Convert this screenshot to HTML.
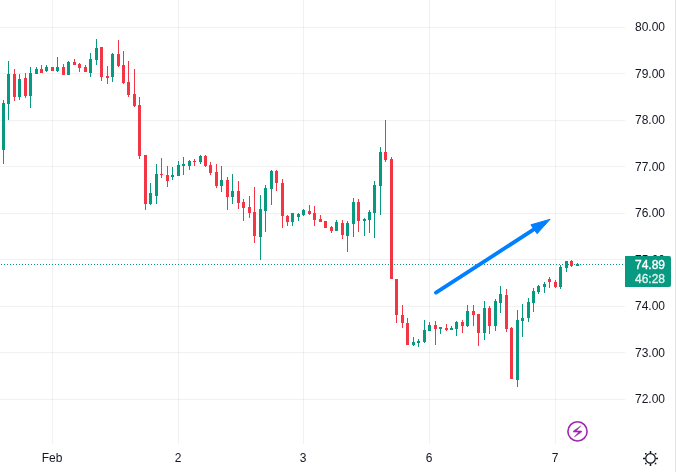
<!DOCTYPE html>
<html><head><meta charset="utf-8"><style>
html,body{margin:0;padding:0;background:#fff;}
body{width:676px;height:472px;overflow:hidden;}
svg{display:block;will-change:transform;}
.ax{font-family:"Liberation Sans",sans-serif;font-size:12px;fill:#131722;}
.lb{font-family:"Liberation Sans",sans-serif;font-size:12px;fill:#fff;}
</style></head><body>
<svg width="676" height="472" viewBox="0 0 676 472">
<g shape-rendering="crispEdges"><rect x="0" y="27" width="625" height="1" fill="rgba(30,40,35,0.065)"/><rect x="0" y="73" width="625" height="1" fill="rgba(30,40,35,0.065)"/><rect x="0" y="120" width="625" height="1" fill="rgba(30,40,35,0.065)"/><rect x="0" y="166" width="625" height="1" fill="rgba(30,40,35,0.065)"/><rect x="0" y="213" width="625" height="1" fill="rgba(30,40,35,0.065)"/><rect x="0" y="259" width="625" height="1" fill="rgba(30,40,35,0.065)"/><rect x="0" y="306" width="625" height="1" fill="rgba(30,40,35,0.065)"/><rect x="0" y="352" width="625" height="1" fill="rgba(30,40,35,0.065)"/><rect x="0" y="399" width="625" height="1" fill="rgba(30,40,35,0.065)"/><rect x="52" y="0" width="1" height="444" fill="rgba(30,40,35,0.065)"/><rect x="178" y="0" width="1" height="444" fill="rgba(30,40,35,0.065)"/><rect x="303" y="0" width="1" height="444" fill="rgba(30,40,35,0.065)"/><rect x="429" y="0" width="1" height="444" fill="rgba(30,40,35,0.065)"/><rect x="555" y="0" width="1" height="444" fill="rgba(30,40,35,0.065)"/><rect x="3" y="100" width="1" height="64" fill="#089981"/><rect x="2" y="103" width="3" height="47" fill="#089981"/><rect x="8" y="61" width="1" height="59" fill="#089981"/><rect x="7" y="74" width="3" height="30" fill="#089981"/><rect x="14" y="69" width="1" height="32" fill="#F23645"/><rect x="13" y="74" width="3" height="23" fill="#F23645"/><rect x="19" y="74" width="1" height="26" fill="#089981"/><rect x="18" y="79" width="3" height="18" fill="#089981"/><rect x="25" y="73" width="1" height="25" fill="#F23645"/><rect x="24" y="78" width="3" height="18" fill="#F23645"/><rect x="30" y="67" width="1" height="41" fill="#089981"/><rect x="29" y="73" width="3" height="23" fill="#089981"/><rect x="36" y="67" width="1" height="7" fill="#089981"/><rect x="35" y="69" width="3" height="5" fill="#089981"/><rect x="41" y="65" width="1" height="8" fill="#F23645"/><rect x="40" y="69" width="3" height="4" fill="#F23645"/><rect x="46" y="65" width="1" height="7" fill="#089981"/><rect x="45" y="67" width="3" height="4" fill="#089981"/><rect x="52" y="67" width="1" height="4" fill="#F23645"/><rect x="51" y="67" width="3" height="4" fill="#F23645"/><rect x="57" y="57" width="1" height="15" fill="#089981"/><rect x="56" y="67" width="3" height="4" fill="#089981"/><rect x="63" y="64" width="1" height="11" fill="#F23645"/><rect x="62" y="67" width="3" height="8" fill="#F23645"/><rect x="68" y="61" width="1" height="14" fill="#089981"/><rect x="67" y="62" width="3" height="13" fill="#089981"/><rect x="74" y="59" width="1" height="6" fill="#F23645"/><rect x="73" y="62" width="3" height="3" fill="#F23645"/><rect x="79" y="63" width="1" height="9" fill="#F23645"/><rect x="78" y="64" width="3" height="4" fill="#F23645"/><rect x="85" y="65" width="1" height="7" fill="#F23645"/><rect x="84" y="67" width="3" height="5" fill="#F23645"/><rect x="90" y="53" width="1" height="24" fill="#089981"/><rect x="89" y="59" width="3" height="14" fill="#089981"/><rect x="96" y="39" width="1" height="26" fill="#089981"/><rect x="95" y="48" width="3" height="12" fill="#089981"/><rect x="101" y="47" width="1" height="34" fill="#F23645"/><rect x="100" y="47" width="3" height="30" fill="#F23645"/><rect x="107" y="66" width="1" height="18" fill="#F23645"/><rect x="106" y="76" width="3" height="2" fill="#F23645"/><rect x="112" y="53" width="1" height="29" fill="#089981"/><rect x="111" y="54" width="3" height="23" fill="#089981"/><rect x="118" y="40" width="1" height="27" fill="#F23645"/><rect x="117" y="54" width="3" height="12" fill="#F23645"/><rect x="123" y="51" width="1" height="33" fill="#F23645"/><rect x="122" y="65" width="3" height="18" fill="#F23645"/><rect x="128" y="61" width="1" height="36" fill="#F23645"/><rect x="127" y="82" width="3" height="13" fill="#F23645"/><rect x="134" y="69" width="1" height="38" fill="#F23645"/><rect x="133" y="94" width="3" height="12" fill="#F23645"/><rect x="139" y="97" width="1" height="62" fill="#F23645"/><rect x="138" y="105" width="3" height="51" fill="#F23645"/><rect x="145" y="155" width="1" height="55" fill="#F23645"/><rect x="144" y="155" width="3" height="49" fill="#F23645"/><rect x="150" y="183" width="1" height="22" fill="#089981"/><rect x="149" y="193" width="3" height="11" fill="#089981"/><rect x="156" y="164" width="1" height="40" fill="#089981"/><rect x="155" y="174" width="3" height="22" fill="#089981"/><rect x="161" y="158" width="1" height="20" fill="#F23645"/><rect x="160" y="174" width="3" height="1" fill="#F23645"/><rect x="167" y="166" width="1" height="21" fill="#F23645"/><rect x="166" y="175" width="3" height="6" fill="#F23645"/><rect x="172" y="167" width="1" height="13" fill="#089981"/><rect x="171" y="175" width="3" height="2" fill="#089981"/><rect x="178" y="161" width="1" height="15" fill="#089981"/><rect x="177" y="165" width="3" height="11" fill="#089981"/><rect x="183" y="157" width="1" height="18" fill="#089981"/><rect x="182" y="164" width="3" height="2" fill="#089981"/><rect x="189" y="160" width="1" height="10" fill="#089981"/><rect x="188" y="161" width="3" height="5" fill="#089981"/><rect x="194" y="159" width="1" height="7" fill="#F23645"/><rect x="193" y="161" width="3" height="1" fill="#F23645"/><rect x="200" y="155" width="1" height="9" fill="#089981"/><rect x="199" y="156" width="3" height="6" fill="#089981"/><rect x="205" y="155" width="1" height="12" fill="#F23645"/><rect x="204" y="156" width="3" height="10" fill="#F23645"/><rect x="210" y="162" width="1" height="13" fill="#F23645"/><rect x="209" y="165" width="3" height="8" fill="#F23645"/><rect x="216" y="164" width="1" height="24" fill="#F23645"/><rect x="215" y="172" width="3" height="14" fill="#F23645"/><rect x="221" y="166" width="1" height="26" fill="#089981"/><rect x="220" y="180" width="3" height="6" fill="#089981"/><rect x="227" y="177" width="1" height="33" fill="#F23645"/><rect x="226" y="180" width="3" height="17" fill="#F23645"/><rect x="232" y="174" width="1" height="30" fill="#089981"/><rect x="231" y="191" width="3" height="6" fill="#089981"/><rect x="238" y="181" width="1" height="28" fill="#F23645"/><rect x="237" y="191" width="3" height="12" fill="#F23645"/><rect x="243" y="199" width="1" height="22" fill="#F23645"/><rect x="242" y="202" width="3" height="6" fill="#F23645"/><rect x="249" y="196" width="1" height="22" fill="#F23645"/><rect x="248" y="207" width="3" height="6" fill="#F23645"/><rect x="254" y="187" width="1" height="56" fill="#F23645"/><rect x="253" y="212" width="3" height="24" fill="#F23645"/><rect x="260" y="195" width="1" height="65" fill="#089981"/><rect x="259" y="209" width="3" height="28" fill="#089981"/><rect x="265" y="185" width="1" height="47" fill="#089981"/><rect x="264" y="188" width="3" height="23" fill="#089981"/><rect x="271" y="170" width="1" height="35" fill="#089981"/><rect x="270" y="171" width="3" height="18" fill="#089981"/><rect x="276" y="170" width="1" height="21" fill="#F23645"/><rect x="275" y="171" width="3" height="12" fill="#F23645"/><rect x="282" y="179" width="1" height="49" fill="#F23645"/><rect x="281" y="183" width="3" height="33" fill="#F23645"/><rect x="287" y="215" width="1" height="11" fill="#F23645"/><rect x="286" y="216" width="3" height="6" fill="#F23645"/><rect x="292" y="213" width="1" height="13" fill="#089981"/><rect x="291" y="213" width="3" height="9" fill="#089981"/><rect x="298" y="213" width="1" height="8" fill="#089981"/><rect x="297" y="214" width="3" height="3" fill="#089981"/><rect x="303" y="209" width="1" height="7" fill="#089981"/><rect x="302" y="210" width="3" height="5" fill="#089981"/><rect x="309" y="205" width="1" height="10" fill="#F23645"/><rect x="308" y="211" width="3" height="3" fill="#F23645"/><rect x="314" y="206" width="1" height="20" fill="#F23645"/><rect x="313" y="213" width="3" height="7" fill="#F23645"/><rect x="320" y="215" width="1" height="7" fill="#F23645"/><rect x="319" y="219" width="3" height="3" fill="#F23645"/><rect x="325" y="221" width="1" height="7" fill="#F23645"/><rect x="324" y="221" width="3" height="7" fill="#F23645"/><rect x="331" y="226" width="1" height="7" fill="#F23645"/><rect x="330" y="227" width="3" height="4" fill="#F23645"/><rect x="336" y="220" width="1" height="11" fill="#089981"/><rect x="335" y="222" width="3" height="9" fill="#089981"/><rect x="342" y="220" width="1" height="19" fill="#F23645"/><rect x="341" y="223" width="3" height="12" fill="#F23645"/><rect x="347" y="221" width="1" height="31" fill="#089981"/><rect x="346" y="223" width="3" height="13" fill="#089981"/><rect x="353" y="198" width="1" height="39" fill="#089981"/><rect x="352" y="202" width="3" height="22" fill="#089981"/><rect x="358" y="199" width="1" height="33" fill="#F23645"/><rect x="357" y="202" width="3" height="19" fill="#F23645"/><rect x="364" y="218" width="1" height="18" fill="#089981"/><rect x="363" y="219" width="3" height="2" fill="#089981"/><rect x="369" y="210" width="1" height="23" fill="#089981"/><rect x="368" y="212" width="3" height="8" fill="#089981"/><rect x="374" y="181" width="1" height="57" fill="#089981"/><rect x="373" y="185" width="3" height="28" fill="#089981"/><rect x="380" y="147" width="1" height="68" fill="#089981"/><rect x="379" y="152" width="3" height="34" fill="#089981"/><rect x="385" y="120" width="1" height="42" fill="#F23645"/><rect x="384" y="152" width="3" height="8" fill="#F23645"/><rect x="391" y="157" width="1" height="122" fill="#F23645"/><rect x="390" y="159" width="3" height="120" fill="#F23645"/><rect x="396" y="279" width="1" height="44" fill="#F23645"/><rect x="395" y="279" width="3" height="36" fill="#F23645"/><rect x="402" y="305" width="1" height="23" fill="#F23645"/><rect x="401" y="315" width="3" height="8" fill="#F23645"/><rect x="407" y="318" width="1" height="27" fill="#F23645"/><rect x="406" y="323" width="3" height="22" fill="#F23645"/><rect x="413" y="337" width="1" height="9" fill="#089981"/><rect x="412" y="342" width="3" height="3" fill="#089981"/><rect x="418" y="339" width="1" height="8" fill="#089981"/><rect x="417" y="341" width="3" height="2" fill="#089981"/><rect x="424" y="320" width="1" height="23" fill="#089981"/><rect x="423" y="330" width="3" height="12" fill="#089981"/><rect x="429" y="322" width="1" height="9" fill="#089981"/><rect x="428" y="325" width="3" height="6" fill="#089981"/><rect x="435" y="321" width="1" height="24" fill="#F23645"/><rect x="434" y="325" width="3" height="4" fill="#F23645"/><rect x="440" y="327" width="1" height="7" fill="#089981"/><rect x="439" y="327" width="3" height="2" fill="#089981"/><rect x="446" y="324" width="1" height="7" fill="#F23645"/><rect x="445" y="328" width="3" height="2" fill="#F23645"/><rect x="451" y="326" width="1" height="4" fill="#089981"/><rect x="450" y="328" width="3" height="2" fill="#089981"/><rect x="456" y="321" width="1" height="15" fill="#089981"/><rect x="455" y="322" width="3" height="7" fill="#089981"/><rect x="462" y="320" width="1" height="13" fill="#F23645"/><rect x="461" y="322" width="3" height="4" fill="#F23645"/><rect x="467" y="305" width="1" height="22" fill="#089981"/><rect x="466" y="311" width="3" height="15" fill="#089981"/><rect x="473" y="305" width="1" height="21" fill="#F23645"/><rect x="472" y="311" width="3" height="4" fill="#F23645"/><rect x="478" y="314" width="1" height="32" fill="#F23645"/><rect x="477" y="314" width="3" height="19" fill="#F23645"/><rect x="484" y="301" width="1" height="39" fill="#089981"/><rect x="483" y="308" width="3" height="25" fill="#089981"/><rect x="489" y="306" width="1" height="28" fill="#F23645"/><rect x="488" y="308" width="3" height="18" fill="#F23645"/><rect x="495" y="299" width="1" height="32" fill="#089981"/><rect x="494" y="301" width="3" height="25" fill="#089981"/><rect x="500" y="286" width="1" height="27" fill="#089981"/><rect x="499" y="294" width="3" height="9" fill="#089981"/><rect x="506" y="289" width="1" height="43" fill="#F23645"/><rect x="505" y="295" width="3" height="34" fill="#F23645"/><rect x="511" y="327" width="1" height="52" fill="#F23645"/><rect x="510" y="328" width="3" height="51" fill="#F23645"/><rect x="517" y="310" width="1" height="77" fill="#089981"/><rect x="516" y="320" width="3" height="60" fill="#089981"/><rect x="522" y="304" width="1" height="33" fill="#089981"/><rect x="521" y="318" width="3" height="3" fill="#089981"/><rect x="528" y="298" width="1" height="24" fill="#089981"/><rect x="527" y="302" width="3" height="16" fill="#089981"/><rect x="533" y="288" width="1" height="24" fill="#089981"/><rect x="532" y="291" width="3" height="12" fill="#089981"/><rect x="538" y="285" width="1" height="9" fill="#089981"/><rect x="537" y="286" width="3" height="6" fill="#089981"/><rect x="544" y="282" width="1" height="11" fill="#089981"/><rect x="543" y="284" width="3" height="3" fill="#089981"/><rect x="549" y="277" width="1" height="11" fill="#F23645"/><rect x="548" y="279" width="3" height="3" fill="#F23645"/><rect x="555" y="280" width="1" height="8" fill="#F23645"/><rect x="554" y="282" width="3" height="5" fill="#F23645"/><rect x="560" y="265" width="1" height="24" fill="#089981"/><rect x="559" y="267" width="3" height="20" fill="#089981"/><rect x="566" y="261" width="1" height="11" fill="#089981"/><rect x="565" y="261" width="3" height="7" fill="#089981"/><rect x="571" y="260" width="1" height="7" fill="#F23645"/><rect x="570" y="261" width="3" height="5" fill="#F23645"/><rect x="577" y="263" width="1" height="3" fill="#089981"/><rect x="576" y="264" width="3" height="2" fill="#089981"/><rect x="1" y="264" width="1" height="1" fill="#089981"/><rect x="4" y="264" width="1" height="1" fill="#089981"/><rect x="7" y="264" width="1" height="1" fill="#089981"/><rect x="10" y="264" width="1" height="1" fill="#089981"/><rect x="13" y="264" width="1" height="1" fill="#089981"/><rect x="16" y="264" width="1" height="1" fill="#089981"/><rect x="19" y="264" width="1" height="1" fill="#089981"/><rect x="22" y="264" width="1" height="1" fill="#089981"/><rect x="25" y="264" width="1" height="1" fill="#089981"/><rect x="28" y="264" width="1" height="1" fill="#089981"/><rect x="31" y="264" width="1" height="1" fill="#089981"/><rect x="34" y="264" width="1" height="1" fill="#089981"/><rect x="37" y="264" width="1" height="1" fill="#089981"/><rect x="40" y="264" width="1" height="1" fill="#089981"/><rect x="43" y="264" width="1" height="1" fill="#089981"/><rect x="46" y="264" width="1" height="1" fill="#089981"/><rect x="49" y="264" width="1" height="1" fill="#089981"/><rect x="52" y="264" width="1" height="1" fill="#089981"/><rect x="55" y="264" width="1" height="1" fill="#089981"/><rect x="58" y="264" width="1" height="1" fill="#089981"/><rect x="61" y="264" width="1" height="1" fill="#089981"/><rect x="64" y="264" width="1" height="1" fill="#089981"/><rect x="67" y="264" width="1" height="1" fill="#089981"/><rect x="70" y="264" width="1" height="1" fill="#089981"/><rect x="73" y="264" width="1" height="1" fill="#089981"/><rect x="76" y="264" width="1" height="1" fill="#089981"/><rect x="79" y="264" width="1" height="1" fill="#089981"/><rect x="82" y="264" width="1" height="1" fill="#089981"/><rect x="85" y="264" width="1" height="1" fill="#089981"/><rect x="88" y="264" width="1" height="1" fill="#089981"/><rect x="91" y="264" width="1" height="1" fill="#089981"/><rect x="94" y="264" width="1" height="1" fill="#089981"/><rect x="97" y="264" width="1" height="1" fill="#089981"/><rect x="100" y="264" width="1" height="1" fill="#089981"/><rect x="103" y="264" width="1" height="1" fill="#089981"/><rect x="106" y="264" width="1" height="1" fill="#089981"/><rect x="109" y="264" width="1" height="1" fill="#089981"/><rect x="112" y="264" width="1" height="1" fill="#089981"/><rect x="115" y="264" width="1" height="1" fill="#089981"/><rect x="118" y="264" width="1" height="1" fill="#089981"/><rect x="121" y="264" width="1" height="1" fill="#089981"/><rect x="124" y="264" width="1" height="1" fill="#089981"/><rect x="127" y="264" width="1" height="1" fill="#089981"/><rect x="130" y="264" width="1" height="1" fill="#089981"/><rect x="133" y="264" width="1" height="1" fill="#089981"/><rect x="136" y="264" width="1" height="1" fill="#089981"/><rect x="139" y="264" width="1" height="1" fill="#089981"/><rect x="142" y="264" width="1" height="1" fill="#089981"/><rect x="145" y="264" width="1" height="1" fill="#089981"/><rect x="148" y="264" width="1" height="1" fill="#089981"/><rect x="151" y="264" width="1" height="1" fill="#089981"/><rect x="154" y="264" width="1" height="1" fill="#089981"/><rect x="157" y="264" width="1" height="1" fill="#089981"/><rect x="160" y="264" width="1" height="1" fill="#089981"/><rect x="163" y="264" width="1" height="1" fill="#089981"/><rect x="166" y="264" width="1" height="1" fill="#089981"/><rect x="169" y="264" width="1" height="1" fill="#089981"/><rect x="172" y="264" width="1" height="1" fill="#089981"/><rect x="175" y="264" width="1" height="1" fill="#089981"/><rect x="178" y="264" width="1" height="1" fill="#089981"/><rect x="181" y="264" width="1" height="1" fill="#089981"/><rect x="184" y="264" width="1" height="1" fill="#089981"/><rect x="187" y="264" width="1" height="1" fill="#089981"/><rect x="190" y="264" width="1" height="1" fill="#089981"/><rect x="193" y="264" width="1" height="1" fill="#089981"/><rect x="196" y="264" width="1" height="1" fill="#089981"/><rect x="199" y="264" width="1" height="1" fill="#089981"/><rect x="202" y="264" width="1" height="1" fill="#089981"/><rect x="205" y="264" width="1" height="1" fill="#089981"/><rect x="208" y="264" width="1" height="1" fill="#089981"/><rect x="211" y="264" width="1" height="1" fill="#089981"/><rect x="214" y="264" width="1" height="1" fill="#089981"/><rect x="217" y="264" width="1" height="1" fill="#089981"/><rect x="220" y="264" width="1" height="1" fill="#089981"/><rect x="223" y="264" width="1" height="1" fill="#089981"/><rect x="226" y="264" width="1" height="1" fill="#089981"/><rect x="229" y="264" width="1" height="1" fill="#089981"/><rect x="232" y="264" width="1" height="1" fill="#089981"/><rect x="235" y="264" width="1" height="1" fill="#089981"/><rect x="238" y="264" width="1" height="1" fill="#089981"/><rect x="241" y="264" width="1" height="1" fill="#089981"/><rect x="244" y="264" width="1" height="1" fill="#089981"/><rect x="247" y="264" width="1" height="1" fill="#089981"/><rect x="250" y="264" width="1" height="1" fill="#089981"/><rect x="253" y="264" width="1" height="1" fill="#089981"/><rect x="256" y="264" width="1" height="1" fill="#089981"/><rect x="259" y="264" width="1" height="1" fill="#089981"/><rect x="262" y="264" width="1" height="1" fill="#089981"/><rect x="265" y="264" width="1" height="1" fill="#089981"/><rect x="268" y="264" width="1" height="1" fill="#089981"/><rect x="271" y="264" width="1" height="1" fill="#089981"/><rect x="274" y="264" width="1" height="1" fill="#089981"/><rect x="277" y="264" width="1" height="1" fill="#089981"/><rect x="280" y="264" width="1" height="1" fill="#089981"/><rect x="283" y="264" width="1" height="1" fill="#089981"/><rect x="286" y="264" width="1" height="1" fill="#089981"/><rect x="289" y="264" width="1" height="1" fill="#089981"/><rect x="292" y="264" width="1" height="1" fill="#089981"/><rect x="295" y="264" width="1" height="1" fill="#089981"/><rect x="298" y="264" width="1" height="1" fill="#089981"/><rect x="301" y="264" width="1" height="1" fill="#089981"/><rect x="304" y="264" width="1" height="1" fill="#089981"/><rect x="307" y="264" width="1" height="1" fill="#089981"/><rect x="310" y="264" width="1" height="1" fill="#089981"/><rect x="313" y="264" width="1" height="1" fill="#089981"/><rect x="316" y="264" width="1" height="1" fill="#089981"/><rect x="319" y="264" width="1" height="1" fill="#089981"/><rect x="322" y="264" width="1" height="1" fill="#089981"/><rect x="325" y="264" width="1" height="1" fill="#089981"/><rect x="328" y="264" width="1" height="1" fill="#089981"/><rect x="331" y="264" width="1" height="1" fill="#089981"/><rect x="334" y="264" width="1" height="1" fill="#089981"/><rect x="337" y="264" width="1" height="1" fill="#089981"/><rect x="340" y="264" width="1" height="1" fill="#089981"/><rect x="343" y="264" width="1" height="1" fill="#089981"/><rect x="346" y="264" width="1" height="1" fill="#089981"/><rect x="349" y="264" width="1" height="1" fill="#089981"/><rect x="352" y="264" width="1" height="1" fill="#089981"/><rect x="355" y="264" width="1" height="1" fill="#089981"/><rect x="358" y="264" width="1" height="1" fill="#089981"/><rect x="361" y="264" width="1" height="1" fill="#089981"/><rect x="364" y="264" width="1" height="1" fill="#089981"/><rect x="367" y="264" width="1" height="1" fill="#089981"/><rect x="370" y="264" width="1" height="1" fill="#089981"/><rect x="373" y="264" width="1" height="1" fill="#089981"/><rect x="376" y="264" width="1" height="1" fill="#089981"/><rect x="379" y="264" width="1" height="1" fill="#089981"/><rect x="382" y="264" width="1" height="1" fill="#089981"/><rect x="385" y="264" width="1" height="1" fill="#089981"/><rect x="388" y="264" width="1" height="1" fill="#089981"/><rect x="391" y="264" width="1" height="1" fill="#089981"/><rect x="394" y="264" width="1" height="1" fill="#089981"/><rect x="397" y="264" width="1" height="1" fill="#089981"/><rect x="400" y="264" width="1" height="1" fill="#089981"/><rect x="403" y="264" width="1" height="1" fill="#089981"/><rect x="406" y="264" width="1" height="1" fill="#089981"/><rect x="409" y="264" width="1" height="1" fill="#089981"/><rect x="412" y="264" width="1" height="1" fill="#089981"/><rect x="415" y="264" width="1" height="1" fill="#089981"/><rect x="418" y="264" width="1" height="1" fill="#089981"/><rect x="421" y="264" width="1" height="1" fill="#089981"/><rect x="424" y="264" width="1" height="1" fill="#089981"/><rect x="427" y="264" width="1" height="1" fill="#089981"/><rect x="430" y="264" width="1" height="1" fill="#089981"/><rect x="433" y="264" width="1" height="1" fill="#089981"/><rect x="436" y="264" width="1" height="1" fill="#089981"/><rect x="439" y="264" width="1" height="1" fill="#089981"/><rect x="442" y="264" width="1" height="1" fill="#089981"/><rect x="445" y="264" width="1" height="1" fill="#089981"/><rect x="448" y="264" width="1" height="1" fill="#089981"/><rect x="451" y="264" width="1" height="1" fill="#089981"/><rect x="454" y="264" width="1" height="1" fill="#089981"/><rect x="457" y="264" width="1" height="1" fill="#089981"/><rect x="460" y="264" width="1" height="1" fill="#089981"/><rect x="463" y="264" width="1" height="1" fill="#089981"/><rect x="466" y="264" width="1" height="1" fill="#089981"/><rect x="469" y="264" width="1" height="1" fill="#089981"/><rect x="472" y="264" width="1" height="1" fill="#089981"/><rect x="475" y="264" width="1" height="1" fill="#089981"/><rect x="478" y="264" width="1" height="1" fill="#089981"/><rect x="481" y="264" width="1" height="1" fill="#089981"/><rect x="484" y="264" width="1" height="1" fill="#089981"/><rect x="487" y="264" width="1" height="1" fill="#089981"/><rect x="490" y="264" width="1" height="1" fill="#089981"/><rect x="493" y="264" width="1" height="1" fill="#089981"/><rect x="496" y="264" width="1" height="1" fill="#089981"/><rect x="499" y="264" width="1" height="1" fill="#089981"/><rect x="502" y="264" width="1" height="1" fill="#089981"/><rect x="505" y="264" width="1" height="1" fill="#089981"/><rect x="508" y="264" width="1" height="1" fill="#089981"/><rect x="511" y="264" width="1" height="1" fill="#089981"/><rect x="514" y="264" width="1" height="1" fill="#089981"/><rect x="517" y="264" width="1" height="1" fill="#089981"/><rect x="520" y="264" width="1" height="1" fill="#089981"/><rect x="523" y="264" width="1" height="1" fill="#089981"/><rect x="526" y="264" width="1" height="1" fill="#089981"/><rect x="529" y="264" width="1" height="1" fill="#089981"/><rect x="532" y="264" width="1" height="1" fill="#089981"/><rect x="535" y="264" width="1" height="1" fill="#089981"/><rect x="538" y="264" width="1" height="1" fill="#089981"/><rect x="541" y="264" width="1" height="1" fill="#089981"/><rect x="544" y="264" width="1" height="1" fill="#089981"/><rect x="547" y="264" width="1" height="1" fill="#089981"/><rect x="550" y="264" width="1" height="1" fill="#089981"/><rect x="553" y="264" width="1" height="1" fill="#089981"/><rect x="556" y="264" width="1" height="1" fill="#089981"/><rect x="559" y="264" width="1" height="1" fill="#089981"/><rect x="562" y="264" width="1" height="1" fill="#089981"/><rect x="565" y="264" width="1" height="1" fill="#089981"/><rect x="568" y="264" width="1" height="1" fill="#089981"/><rect x="571" y="264" width="1" height="1" fill="#089981"/><rect x="574" y="264" width="1" height="1" fill="#089981"/><rect x="577" y="264" width="1" height="1" fill="#089981"/><rect x="580" y="264" width="1" height="1" fill="#089981"/><rect x="583" y="264" width="1" height="1" fill="#089981"/><rect x="586" y="264" width="1" height="1" fill="#089981"/><rect x="589" y="264" width="1" height="1" fill="#089981"/><rect x="592" y="264" width="1" height="1" fill="#089981"/><rect x="595" y="264" width="1" height="1" fill="#089981"/><rect x="598" y="264" width="1" height="1" fill="#089981"/><rect x="601" y="264" width="1" height="1" fill="#089981"/><rect x="604" y="264" width="1" height="1" fill="#089981"/><rect x="607" y="264" width="1" height="1" fill="#089981"/><rect x="610" y="264" width="1" height="1" fill="#089981"/><rect x="613" y="264" width="1" height="1" fill="#089981"/><rect x="616" y="264" width="1" height="1" fill="#089981"/><rect x="619" y="264" width="1" height="1" fill="#089981"/><rect x="622" y="264" width="1" height="1" fill="#089981"/></g>
<g fill="#0080FF" stroke="#0080FF">
<line x1="436" y1="292.6" x2="535" y2="228.7" stroke-width="3.8" stroke-linecap="round"/>
<polygon points="550.1,219.3 530.9,224.8 537.1,233.7" stroke-width="1" stroke-linejoin="round"/>
</g>
<g fill="none" stroke="#9C27B0" stroke-width="1.6" stroke-linecap="round" stroke-linejoin="round">
<circle cx="577.5" cy="431.4" r="9.6"/>
<polygon points="580.6,426.0 573.4,431.0 573.4,432.1 578.6,432.1 574.4,437.0 581.6,432.0 581.6,430.9 576.4,430.9" stroke-width="0.5" fill="#9C27B0"/>
</g>
<g stroke="#131722" stroke-width="1.5" fill="none">
<circle cx="650.5" cy="458.4" r="4.75" stroke-width="1.2"/>
<line x1="650.5" y1="451" x2="650.5" y2="453.5"/>
<line x1="650.5" y1="463.5" x2="650.5" y2="466"/>
<line x1="643" y1="458.5" x2="645.5" y2="458.5"/>
<line x1="655.5" y1="458.5" x2="658" y2="458.5"/>
</g>
<g fill="#131722"><rect x="645" y="453" width="1.5" height="1.5"/><rect x="654.8" y="453" width="1.5" height="1.5"/><rect x="645" y="462.8" width="1.5" height="1.5"/><rect x="654.8" y="462.8" width="1.5" height="1.5"/></g>
<text x="635" y="31" class="ax">80.00</text><text x="635" y="78" class="ax">79.00</text><text x="635" y="124" class="ax">78.00</text><text x="635" y="171" class="ax">77.00</text><text x="635" y="217" class="ax">76.00</text><text x="635" y="264" class="ax">75.00</text><text x="635" y="310" class="ax">74.00</text><text x="635" y="357" class="ax">73.00</text><text x="635" y="403" class="ax">72.00</text>
<text x="52" y="462" class="ax" text-anchor="middle">Feb</text><text x="178" y="462" class="ax" text-anchor="middle">2</text><text x="303" y="462" class="ax" text-anchor="middle">3</text><text x="429" y="462" class="ax" text-anchor="middle">6</text><text x="555" y="462" class="ax" text-anchor="middle">7</text>
<path d="M625 256 H669 Q671 256 671 258 V285 Q671 287 669 287 H625 Z" fill="#089981"/>
<text x="635" y="269" class="lb" stroke="#fff" stroke-width="0.35">74.89</text>
<text x="635" y="283" class="lb" fill-opacity="0.82" stroke="#fff" stroke-opacity="0.82" stroke-width="0.35">46:28</text>
<rect x="675" y="0" width="1" height="472" fill="#E0E3EB"/>
</svg>
</body></html>
